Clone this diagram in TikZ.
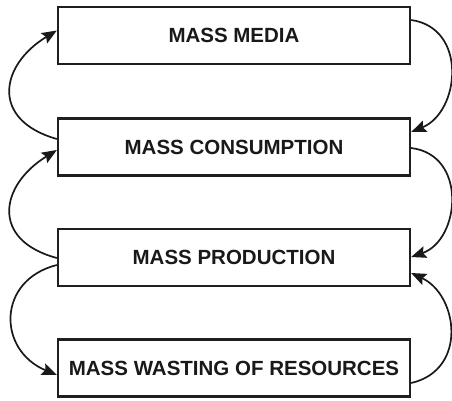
\documentclass[tikz,border=0pt]{standalone}
\usepackage{fontspec}
\setmainfont{Liberation Sans}
\usetikzlibrary{arrows.meta,calc}
\begin{document}
\begin{tikzpicture}[x=1pt,y=-1pt,
  box/.style={draw=black!88,line width=2.3pt,minimum width=352pt,minimum height=57pt,inner sep=0pt,
    font=\fontsize{20.5}{24}\selectfont\bfseries,text=black!90},
  conn/.style={line width=1.7pt,draw=black!90,-{Stealth[length=15pt,width=12pt,inset=2.5pt]}}]
\useasboundingbox (0,0) rectangle (452,400);
\node[box] (b1) at (234,35.5) {MASS MEDIA};
\node[box] (b2) at (234,147) {MASS CONSUMPTION};
\node[box] (b3) at (234,257.5) {MASS PRODUCTION};
\node[box] (b4) at (234,368) {MASS WASTING OF RESOURCES};
% left side
\draw[conn] ($(b2.west)+(0,-8)$) .. controls (-10,120) and (0,65) .. ($(b1.west)+(0,-5)$);
\draw[conn] ($(b3.west)+(0,0.5)$) .. controls (-10,240) and (0,185) .. ($(b2.west)+(0,3)$);
\draw[conn] ($(b3.west)+(0,7.5)$) .. controls (-3,280) and (-3,350) .. ($(b4.west)+(0,7)$);
% right side
\draw[conn] ($(b1.east)+(0,-15.5)$) .. controls (468,28) and (460,112) .. ($(b2.east)+(0,-15)$);
\draw[conn] ($(b2.east)+(0,1)$) .. controls (468,155) and (460,240) .. ($(b3.east)+(0,-0.5)$);
\draw[conn] ($(b4.east)+(0,15)$) .. controls (468,370) and (458,295) .. ($(b3.east)+(0,15.5)$);
\end{tikzpicture}
\end{document}
